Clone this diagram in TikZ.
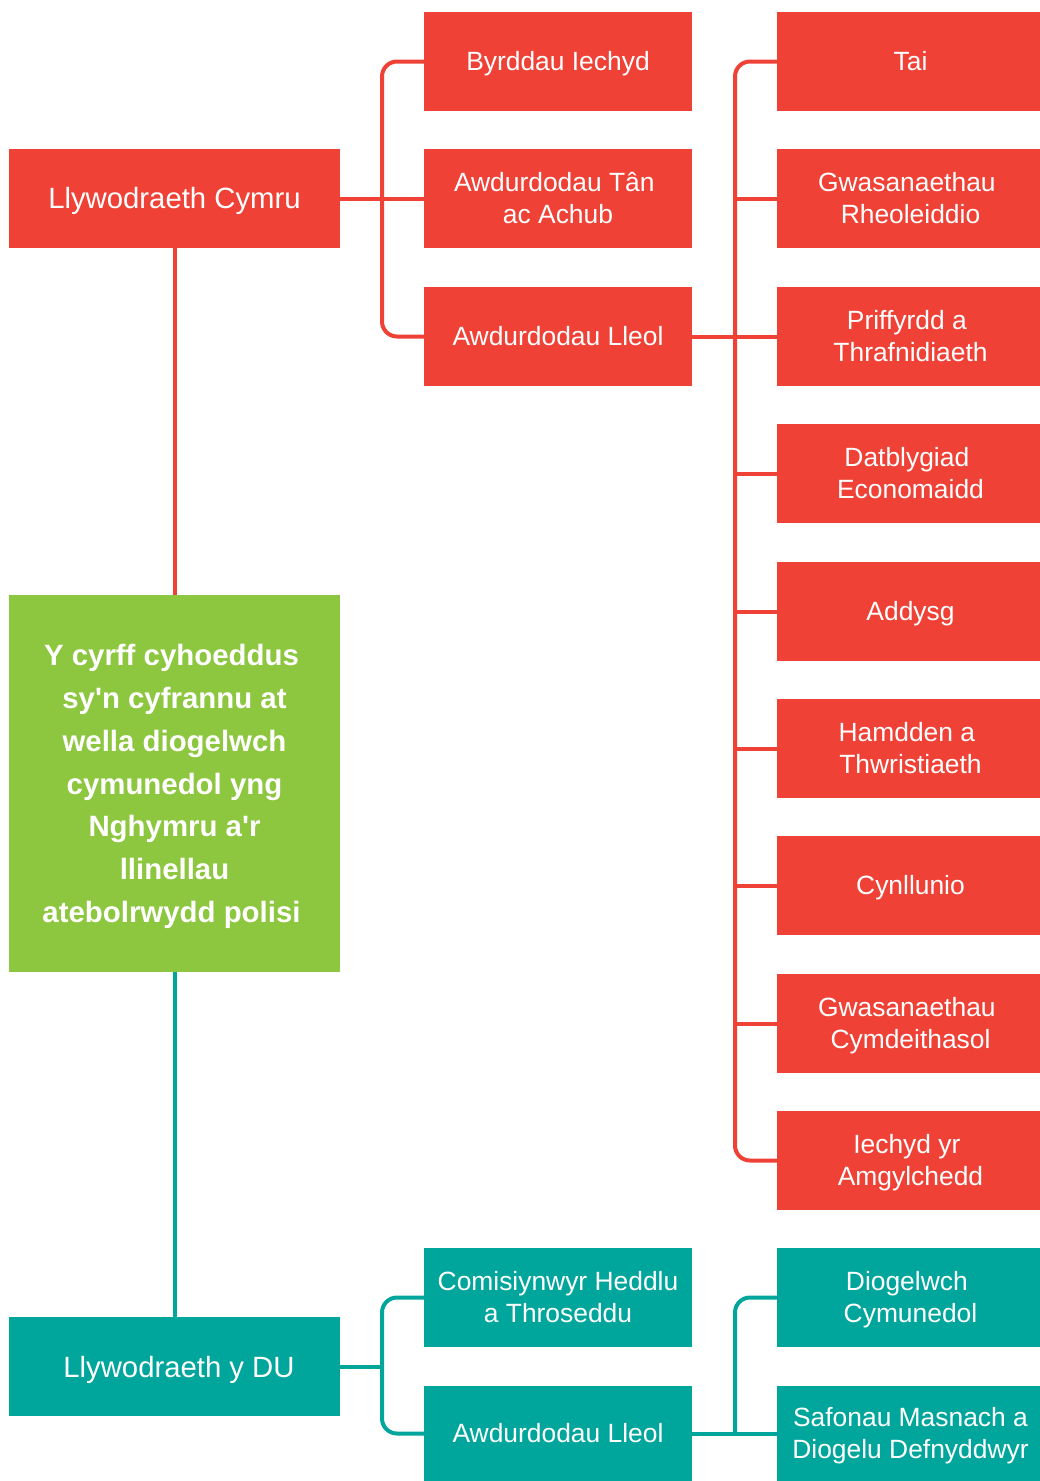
\documentclass[tikz,border=0pt]{standalone}
\usepackage{fontspec}
\setmainfont{Liberation Sans}[Ligatures=TeXOff]
\definecolor{cred}{RGB}{239,65,54}
\definecolor{cgreen}{RGB}{141,198,63}
\definecolor{cteal}{RGB}{0,166,156}
\newcommand{\sx}{\rule[-0.234em]{0pt}{1.184em}}
\newcommand{\tsp}{\hspace*{0.278em}}
\newcommand{\gsp}{\hspace*{6pt}}
\tikzset{
  box/.style={rectangle, inner sep=0pt, text=white, align=center, font=\fontsize{26.4}{32}\selectfont},
  lbox/.style={box, minimum width=331pt, minimum height=99pt, font=\fontsize{29.3}{36}\selectfont},
  mbox/.style={box, minimum width=268pt, minimum height=99pt},
  rbox/.style={box, minimum width=267pt, minimum height=99pt},
  redbox/.style={fill=cred},
  tealbox/.style={fill=cteal},
  redline/.style={draw=cred, line width=4pt},
  tealline/.style={draw=cteal, line width=4pt},
}
\begin{document}
\begin{tikzpicture}[x=1pt,y=-1pt]
\useasboundingbox (0,0) rectangle (1040,1481);
% left column
\node[lbox,redbox] (cymru) at (174.5,198.5) {\sx Llywodraeth Cymru};
\node[lbox,fill=cgreen,minimum height=377pt,font=\fontsize{29.4}{42.7}\selectfont\bfseries] (green) at (174.5,783.5)
  {\sx Y cyrff cyhoeddus\gsp\\\sx sy'n cyfrannu at\gsp\\\sx wella diogelwch\gsp\\\sx cymunedol yng\gsp\\\sx Nghymru a'r\gsp\\\sx llinellau\gsp\\\sx atebolrwydd polisi\gsp};
\node[lbox,tealbox] (du) at (174.5,1366.5) {\hspace*{9pt}\sx Llywodraeth y DU};
% middle column
\node[mbox,redbox] (byr) at (558,61.5) {\sx Byrddau Iechyd};
\node[mbox,redbox] (tan) at (558,198.5) {\sx Awdurdodau Tân\tsp\\\sx ac Achub};
\node[mbox,redbox] (lleolA) at (558,336.5) {\sx Awdurdodau Lleol};
\node[mbox,tealbox] (comis) at (558,1297.5) {\sx Comisiynwyr Heddlu\\\sx a Throseddu};
\node[mbox,tealbox,minimum height=95pt] (lleolB) at (558,1433.5) {\sx Awdurdodau Lleol};
% right column
\node[rbox,redbox] (tai) at (910.5,61.5) {\sx Tai};
\node[rbox,redbox] (gwasR) at (910.5,198.5) {\sx Gwasanaethau\tsp\\\sx Rheoleiddio};
\node[rbox,redbox] (priff) at (910.5,336.5) {\sx Priffyrdd a\tsp\\\sx Thrafnidiaeth};
\node[rbox,redbox] (datb) at (910.5,473.5) {\sx Datblygiad\tsp\\\sx Economaidd};
\node[rbox,redbox] (addysg) at (910.5,611.5) {\sx Addysg};
\node[rbox,redbox] (hamd) at (910.5,748.5) {\sx Hamdden a\tsp\\\sx Thwristiaeth};
\node[rbox,redbox] (cynll) at (910.5,885.5) {\sx Cynllunio};
\node[rbox,redbox] (gwasC) at (910.5,1023.5) {\sx Gwasanaethau\tsp\\\sx Cymdeithasol};
\node[rbox,redbox] (iech) at (910.5,1160.5) {\sx Iechyd yr\tsp\\\sx Amgylchedd};
\node[rbox,tealbox] (dioge) at (910.5,1297.5) {\sx Diogelwch\tsp\\\sx Cymunedol};
\node[rbox,tealbox,minimum height=95pt] (safon) at (910.5,1433.5) {\sx Safonau Masnach a\\\sx Diogelu Defnyddwyr};
% bus coordinates
\coordinate (busA) at (382,0);
\coordinate (busB) at (735,0);
% vertical spine
\draw[redline] (cymru.south) -- (green.north);
\draw[tealline] (green.south) -- (du.north);
% top-left tree
\draw[redline, rounded corners=15pt] (byr.west) -- (byr.west -| busA) -- (lleolA.west -| busA) -- (lleolA.west);
\draw[redline] (cymru.east) -- (tan.west);
% right tree
\draw[redline, rounded corners=15pt] (tai.west) -- (tai.west -| busB) -- (iech.west -| busB) -- (iech.west);
\draw[redline] (lleolA.east) -- (priff.west);
\foreach \n in {gwasR,datb,addysg,hamd,cynll,gwasC}
  \draw[redline] (\n.west -| busB) -- (\n.west);
% bottom-left tree
\draw[tealline, rounded corners=15pt] (comis.west) -- (comis.west -| busA) -- (lleolB.west -| busA) -- (lleolB.west);
\draw[tealline] (du.east) -- (du.east -| busA);
% bottom-right tree
\draw[tealline, rounded corners=15pt] (dioge.west) -- (dioge.west -| busB) -- (safon.west -| busB);
\draw[tealline] (lleolB.east) -- (safon.west);
\end{tikzpicture}
\end{document}
